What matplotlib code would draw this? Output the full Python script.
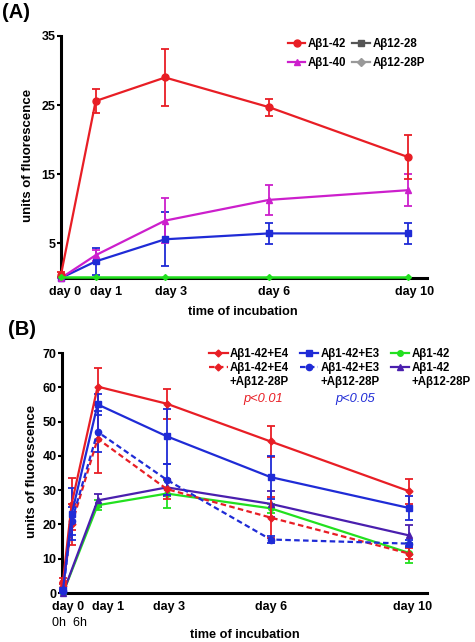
import matplotlib
matplotlib.use("Agg")
import matplotlib.pyplot as plt
from matplotlib.lines import Line2D
from matplotlib.transforms import ScaledTranslation

plt.rcParams['font.family'] = ['Liberation Sans', 'DejaVu Sans']
plt.rcParams['font.weight'] = 'bold'

# ---- panel A data ----
days_a = [0, 1, 3, 6, 10]
ab142_a = [0.5, 25.6, 29.0, 24.7, 17.5]
ab142_a_err = [0.3, 1.8, 4.1, 1.25, 3.2]
ab140_a = [0.0, 3.3, 8.3, 11.3, 12.7]
ab140_a_err = [0.0, 0.8, 3.2, 2.2, 2.35]
ab1228_a = [0.0, 2.4, 5.6, 6.45, 6.45]
ab1228_a_err = [0.0, 1.95, 3.9, 1.5, 1.5]
ab1228p_a = [0.1, 0.1, 0.1, 0.1, 0.1]
ticks_a = ['day 0', 'day 1', 'day 3', 'day 6', 'day 10']

# ---- panel B data ----
days_b = [0, 0.25, 1, 3, 6, 10]
days_b2 = [0, 1, 3, 6, 10]
e4 = [3.5, 26.0, 60.2, 55.2, 44.2, 29.7]
e4_err = [1.0, 7.5, 5.4, 4.4, 4.6, 3.6]
e4p = [2.0, 20.0, 45.0, 30.3, 22.0, 11.5]
e4p_err = [1.0, 6.0, 10.0, 3.0, 6.0, 1.7]
e3 = [1.0, 23.0, 55.0, 45.7, 33.8, 24.8]
e3_err = [0.5, 7.5, 3.0, 8.0, 6.3, 3.5]
e3p = [0.5, 21.0, 47.0, 33.0, 15.6, 14.4]
e3p_err = [0.3, 4.0, 6.0, 4.5, 1.0, 1.0]
ab142_b = [0.0, 25.6, 29.0, 24.7, 11.7]
ab142_b_err = [0.0, 1.5, 4.1, 1.3, 3.0]
ab142p_b = [0.0, 27.0, 30.8, 26.0, 16.8]
ab142p_b_err = [0.0, 1.8, 2.5, 3.8, 3.0]
ticks_b = ['day 0', 'day 1', 'day 3', 'day 6', 'day 10']

RED = '#e81e25'
BLUE = '#1f2bd6'
MAG = '#cc1fcc'
GREEN = '#22e01f'
PURPLE = '#4a1fae'

fig = plt.figure(figsize=(4.75, 6.42), dpi=100)
axA = fig.add_axes([61/475, 1-278/642, 366/475, 242/642])
axB = fig.add_axes([62/475, 1-593/642, 365/475, 240/642])


def style(ax):
    for s in ['top', 'right']:
        ax.spines[s].set_visible(False)
    for s in ['left', 'bottom']:
        ax.spines[s].set_linewidth(2.2)
    ax.tick_params(axis='y', length=3, width=1.5, labelsize=9, pad=1)
    ax.tick_params(axis='x', length=0, labelsize=9, pad=6)


def eb(ax, x, y, e, color, marker, ls='-', ms=5, z=3):
    ax.errorbar(x, y, yerr=e, color=color, marker=marker, ms=ms, lw=1.6,
                ls=ls, capsize=3, elinewidth=1.3, capthick=1.3, zorder=z,
                clip_on=False)


def shift_labels(ax, offsets):
    for lab, dx in zip(ax.get_xticklabels(), offsets):
        lab.set_transform(lab.get_transform() + ScaledTranslation(dx/100, 0, fig.dpi_scale_trans))


def labels(ax, ylx, yly, xlx, xly):
    ax.set_ylabel('units of fluorescence', fontsize=9.5, fontweight='bold', va='center')
    ax.yaxis.set_label_coords(ylx, yly)
    ax.set_xlabel('time of incubation', fontsize=9.2, fontweight='bold', va='center')
    ax.xaxis.set_label_coords(xlx, xly)


# ---------- panel A ----------
eb(axA, days_a, ab1228_a, ab1228_a_err, BLUE, 's', ms=5)
eb(axA, days_a, ab140_a, ab140_a_err, MAG, '^', ms=5)
eb(axA, days_a, ab142_a, ab142_a_err, RED, 'o', ms=5)
axA.plot(days_a, ab1228p_a, color=GREEN, marker='D', ms=3, lw=1.8, zorder=5, clip_on=False)
axA.set_xlim(0, 10.55)
axA.set_ylim(0, 35)
axA.set_yticks([5, 15, 25, 35])
axA.set_xticks(days_a)
axA.set_xticklabels(ticks_a)
style(axA)
shift_labels(axA, [4, 10, 6, 5, 7])
labels(axA, -0.09, 0.508, 0.497, -0.14)

hA = [Line2D([], [], color=RED, marker='o', ms=5, lw=1.6),
      Line2D([], [], color=MAG, marker='^', ms=5, lw=1.6),
      Line2D([], [], color='#555555', marker='s', ms=5, lw=1.6),
      Line2D([], [], color='#999999', marker='D', ms=4, lw=1.6)]
axA.legend(hA, ['Aβ1-42', 'Aβ1-40', 'Aβ12-28', 'Aβ12-28P'], ncol=2,
           loc='upper left', bbox_to_anchor=(0.62, 0.99), frameon=False,
           prop={'size': 8.3, 'weight': 'bold'}, handlelength=1.5,
           handletextpad=0.25, columnspacing=0.5, labelspacing=0.55,
           borderpad=0, borderaxespad=0)

# ---------- panel B ----------
eb(axB, days_b2, ab142_b, ab142_b_err, GREEN, 'o', ms=4, z=3)
eb(axB, days_b2, ab142p_b, ab142p_b_err, PURPLE, '^', ms=4, z=3)
eb(axB, days_b, e4p, e4p_err, RED, 'D', ls=(0, (2.5, 1.5)), ms=3.5, z=4)
eb(axB, days_b, e3p, e3p_err, BLUE, 'o', ls=(0, (2.5, 1.5)), ms=4.5, z=4)
eb(axB, days_b, e4, e4_err, RED, 'D', ms=3.5, z=5)
eb(axB, days_b, e3, e3_err, BLUE, 's', ms=4, z=5)
axB.set_xlim(-0.03, 10.52)
axB.set_ylim(0, 70)
axB.set_yticks(range(0, 71, 10))
axB.set_xticks(days_b2)
axB.set_xticklabels(ticks_b)
style(axB)
shift_labels(axB, [5, 10, 2, 0, 3.5])
axB.text(0.2, -0.125, '0h  6h', transform=axB.get_xaxis_transform(),
         ha='center', va='center', fontsize=9, fontweight='normal')
labels(axB, -0.082, 0.505, 0.5, -0.175)

blank = Line2D([], [], color='none')
hB = [Line2D([], [], color=RED, marker='D', ms=3.5, lw=1.6),
      Line2D([], [], color=RED, marker='D', ms=3.5, lw=1.6, ls=(0, (2.5, 1.5))),
      blank,
      Line2D([], [], color=BLUE, marker='s', ms=4, lw=1.6),
      Line2D([], [], color=BLUE, marker='o', ms=4.5, lw=1.6, ls=(0, (2.5, 1.5))),
      blank,
      Line2D([], [], color=GREEN, marker='o', ms=4, lw=1.6),
      Line2D([], [], color=PURPLE, marker='^', ms=4, lw=1.6),
      blank]
labB = ['Aβ1-42+E4', 'Aβ1-42+E4', '+Aβ12-28P',
        'Aβ1-42+E3', 'Aβ1-42+E3', '+Aβ12-28P',
        'Aβ1-42', 'Aβ1-42', '+Aβ12-28P']
axB.legend(hB, labB, ncol=3, loc='upper left', bbox_to_anchor=(0.403, 1.02),
           frameon=False, prop={'size': 8.3, 'weight': 'bold'},
           handlelength=1.6, handletextpad=0.2, columnspacing=0.95,
           labelspacing=0.15, borderpad=0, borderaxespad=0)
axB.text(0.551, 0.81, 'p<0.01', transform=axB.transAxes, color=RED,
         ha='center', va='center', fontsize=9.3, fontstyle='italic', fontweight='normal')
axB.text(0.803, 0.81, 'p<0.05', transform=axB.transAxes, color=BLUE,
         ha='center', va='center', fontsize=9.3, fontstyle='italic', fontweight='normal')

fig.text(0.004, 1-12/642, '(A)', fontsize=14.5, fontweight='bold', va='center', ha='left')
fig.text(0.017, 1-330/642, '(B)', fontsize=14.5, fontweight='bold', va='center', ha='left')

fig.savefig('out.png', dpi=100)
